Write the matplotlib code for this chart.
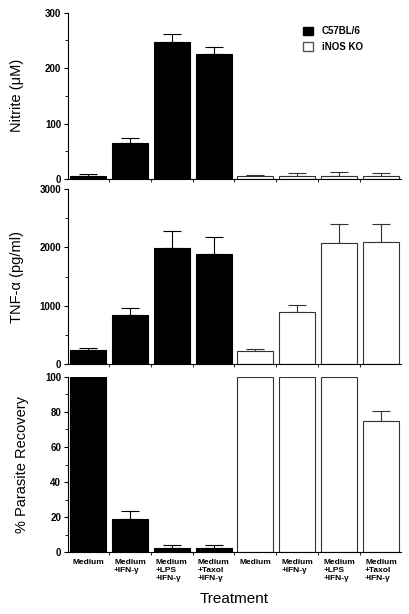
import numpy as np
import matplotlib.pyplot as plt
from matplotlib.ticker import MultipleLocator, FixedLocator
from matplotlib.patches import Patch

treatments = ["Medium", "Medium\n+IFN-\u03b3", "Medium\n+LPS\n+IFN-\u03b3", "Medium\n+Taxol\n+IFN-\u03b3"]

# nitrite (uM)
nitrite_wt = [6, 65, 248, 226]
nitrite_wt_err = [3.5, 9, 14, 11.5]
nitrite_ko = [5, 5, 5, 5]
nitrite_ko_err = [3, 5, 7, 5]

# TNF-alpha (pg/ml)
tnf_wt = [240, 840, 1990, 1895]
tnf_wt_err = [34, 125, 285, 275]
tnf_ko = [235, 890, 2070, 2100]
tnf_ko_err = [34, 120, 325, 308]

# % parasite recovery
rec_wt = [100, 18.8, 2.5, 2.5]
rec_wt_err = [0, 4.5, 1.9, 1.9]
rec_ko = [100, 100, 100, 74.6]
rec_ko_err = [0, 0, 0, 5.7]

plt.rcParams['font.family'] = ['Liberation Sans', 'DejaVu Sans']

fig = plt.figure(figsize=(4.1, 6.14), dpi=100)
L, R = 68 / 410, 401 / 410
ax1 = fig.add_axes([L, 1 - 179 / 614, R - L, (179 - 12.7) / 614])
ax2 = fig.add_axes([L, 1 - 364.3 / 614, R - L, (364.3 - 189) / 614])
ax3 = fig.add_axes([L, 1 - 552.3 / 614, R - L, (552.3 - 376.7) / 614])

x_wt = np.arange(4)
x_ko = np.arange(4, 8)
w = 0.86

panels = [
    (ax1, nitrite_wt, nitrite_wt_err, nitrite_ko, nitrite_ko_err, 300, 100, "Nitrite (\u03bcM)", -0.132),
    (ax2, tnf_wt, tnf_wt_err, tnf_ko, tnf_ko_err, 3000, 1000, "TNF-\u03b1 (pg/ml)", -0.132),
    (ax3, rec_wt, rec_wt_err, rec_ko, rec_ko_err, 100, 20, "% Parasite Recovery", -0.117),
]

for ax, wt, wt_e, ko, ko_e, ymax, step, label, lx in panels:
    ax.bar(x_wt, wt, width=w, color='black', edgecolor='black', linewidth=0.8, zorder=2)
    ax.bar(x_ko, ko, width=w, color='white', edgecolor='#333333', linewidth=0.8, zorder=2)
    ax.errorbar(x_wt, wt, yerr=[np.zeros(4), wt_e], fmt='none', ecolor='black',
                elinewidth=0.8, capsize=6.5, capthick=0.8, zorder=1)
    ax.errorbar(x_ko, ko, yerr=[np.zeros(4), ko_e], fmt='none', ecolor='#333333',
                elinewidth=0.8, capsize=6.5, capthick=0.8, zorder=1)
    ax.set_xlim(-0.48, 7.48)
    ax.set_ylim(0, ymax)
    ax.yaxis.set_major_locator(MultipleLocator(step))
    ax.yaxis.set_minor_locator(MultipleLocator(step / 2))
    ax.spines['top'].set_visible(False)
    ax.spines['right'].set_visible(False)
    ax.spines['left'].set_linewidth(0.8)
    ax.spines['bottom'].set_linewidth(0.8)
    ax.tick_params(axis='y', which='major', length=3, width=0.8, labelsize=7, pad=2)
    ax.tick_params(axis='y', which='minor', length=2, width=0.6)
    for t in ax.get_yticklabels():
        t.set_fontweight('bold')
    ax.set_ylabel(label, fontsize=10.5)
    ax.yaxis.set_label_coords(lx, 0.5)
    ax.xaxis.set_minor_locator(FixedLocator(np.arange(0.5, 7.5, 1)))
    ax.tick_params(axis='x', which='minor', length=2, width=0.6)
    ax.tick_params(axis='x', which='major', length=0)
    if ax is ax3:
        ax.set_xticks(np.arange(8))
        ax.set_xticklabels(treatments + treatments, fontsize=6, fontweight='bold',
                           va='top', multialignment='left')
        ax.tick_params(axis='x', which='major', pad=5)
    else:
        ax.set_xticks([])

ax3.set_xlabel("Treatment", fontsize=11, labelpad=7)

handles = [Patch(facecolor='black', edgecolor='black', label='C57BL/6'),
           Patch(facecolor='white', edgecolor='#555555', label='iNOS KO')]
leg = ax1.legend(handles=handles, loc='upper left', bbox_to_anchor=(0.68, 0.97),
                 frameon=False, prop={'size': 7, 'weight': 'bold'},
                 handlelength=1.0, handleheight=1.0, handletextpad=0.9, labelspacing=0.55)

fig.savefig("out.png", dpi=100)
